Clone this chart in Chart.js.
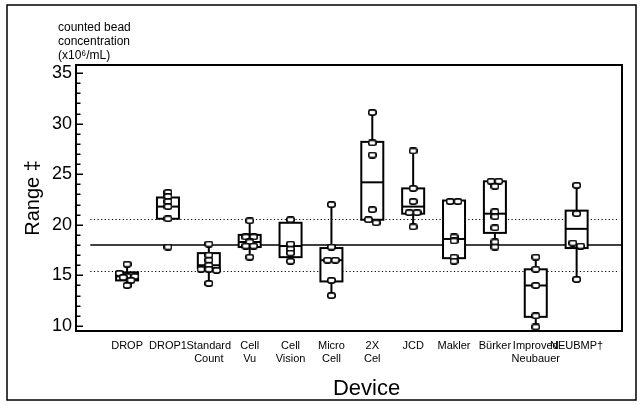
<!DOCTYPE html>
<html>
<head>
<meta charset="utf-8">
<script src="https://cdn.jsdelivr.net/npm/chart.js@4.4.1/dist/chart.umd.min.js"></script>
<style>
  html, body { margin: 0; padding: 0; background: #fff; }
  #wrap { width: 642px; height: 405px; position: relative; }
  canvas { display: block; }
</style>
</head>
<body>
<div id="wrap"><canvas id="c" width="642" height="405"></canvas></div>
<script>
// ---- data ----
const categories = [
  ['DROP'], ['DROP1'], ['Standard', 'Count'], ['Cell', 'Vu'], ['Cell', 'Vision'],
  ['Micro', 'Cell'], ['2X', 'Cel'], ['JCD'], ['Makler'], ['Bürker'],
  ['Improved', 'Neubauer'], ['NEUBMP†']
];
const whiskerLow  = [14.0, 20.6, 14.2, 16.8, 16.4, 13.0, 20.2, 19.8, 16.4, 17.8,  9.9, 14.6];
const q1          = [14.5, 20.6, 15.7, 17.8, 16.8, 14.4, 20.5, 21.1, 16.7, 19.2, 10.9, 17.7];
const median      = [14.9, 21.8, 16.0, 18.3, 17.9, 16.5, 24.2, 21.8, 18.6, 21.1, 14.0, 19.6];
const q3          = [15.3, 22.7, 17.2, 19.0, 20.2, 17.7, 28.2, 23.6, 22.4, 24.3, 15.6, 21.4];
const whiskerHigh = [16.1, 23.2, 18.1, 20.4, 20.5, 22.0, 31.1, 27.3, 22.4, 24.3, 16.8, 23.9];
const observations = [
  [16.1, 15.2, 14.9, 14.8, 14.9, 14.5, 14.0],
  [23.2, 22.8, 22.3, 21.8, 20.6, 17.8],
  [18.1, 17.0, 16.5, 16.0, 15.6, 15.5, 15.6, 14.2],
  [20.4, 18.8, 18.8, 18.3, 17.9, 17.9, 16.8],
  [20.5, 18.1, 17.6, 17.2, 16.4],
  [22.0, 17.8, 16.5, 16.5, 14.5, 13.0],
  [31.1, 28.1, 26.9, 21.5, 20.5, 20.2],
  [27.3, 23.6, 22.3, 21.2, 21.2, 19.8],
  [22.3, 22.3, 18.8, 18.4, 16.8, 16.4],
  [24.3, 24.3, 23.8, 21.3, 20.8, 19.7, 18.3, 17.8],
  [16.8, 15.6, 14.0, 11.0, 9.9],
  [23.9, 21.1, 18.2, 17.9, 14.6]
];
const refMean = 18.0;
const refUpper = 20.6;
const refLower = 15.4;
const yTicks = [10, 15, 20, 25, 30, 35];
const yMin = 9.5, yMax = 35.8;
const xMin = -0.25, xMax = 13.11;

// ---- jitter overlapping points (computed) ----
const STEP = 0.19, THR = 0.35;
const scatterPts = [];
observations.forEach((vals, i) => {
  const sorted = vals.slice().sort((a, b) => b - a);
  let k = 0;
  while (k < sorted.length) {
    let j = k + 1;
    while (j < sorted.length && sorted[k] - sorted[j] < THR) j++;
    const n = j - k;
    for (let m = 0; m < n; m++) {
      scatterPts.push({ x: i + 1 + (m - (n - 1) / 2) * STEP, y: sorted[k + m] });
    }
    k = j;
  }
});

// ---- marker image ----
const marker = document.createElement('canvas');
marker.width = 9; marker.height = 7;
(function () {
  const m = marker.getContext('2d');
  const w = 7.4, h = 5.2, x = 0.8, y = 0.9, r = 2;
  m.beginPath();
  m.moveTo(x + r, y); m.lineTo(x + w - r, y); m.quadraticCurveTo(x + w, y, x + w, y + r);
  m.lineTo(x + w, y + h - r); m.quadraticCurveTo(x + w, y + h, x + w - r, y + h);
  m.lineTo(x + r, y + h); m.quadraticCurveTo(x, y + h, x, y + h - r);
  m.lineTo(x, y + r); m.quadraticCurveTo(x, y, x + r, y); m.closePath();
  m.fillStyle = '#fff'; m.fill();
  m.lineWidth = 1.7; m.strokeStyle = '#000'; m.stroke();
})();

const FONT = '"Liberation Sans", Arial, Helvetica, sans-serif';

const boxPlugin = {
  id: 'boxes',
  beforeDraw(chart) {
    const { ctx } = chart;
    ctx.save();
    ctx.fillStyle = '#fff';
    ctx.fillRect(0, 0, chart.width, chart.height);
    ctx.restore();
  },
  beforeDatasetsDraw(chart) {
    const { ctx, chartArea: a, scales: { x, y } } = chart;
    ctx.save();
    ctx.beginPath(); ctx.rect(a.left, a.top, a.right - a.left, a.bottom - a.top); ctx.clip();
    const x0 = x.getPixelForValue(0.1), x1 = x.getPixelForValue(13.05);
    ctx.strokeStyle = '#000';
    ctx.lineWidth = 1; ctx.setLineDash([1.2, 2.4]);
    [refUpper, refLower].forEach(v => {
      const py = Math.round(y.getPixelForValue(v)) + 0.5;
      ctx.beginPath(); ctx.moveTo(x0, py); ctx.lineTo(x1, py); ctx.stroke();
    });
    ctx.setLineDash([]); ctx.lineWidth = 1.5;
    const pm = y.getPixelForValue(refMean);
    ctx.beginPath(); ctx.moveTo(x0, pm); ctx.lineTo(x1 + 2, pm); ctx.stroke();

    const half = 11;
    ctx.lineWidth = 2;
    categories.forEach((c, i) => {
      const cx = x.getPixelForValue(i + 1);
      const pLo = y.getPixelForValue(whiskerLow[i]);
      const pQ1 = y.getPixelForValue(q1[i]);
      const pMd = y.getPixelForValue(median[i]);
      const pQ3 = y.getPixelForValue(q3[i]);
      const pHi = y.getPixelForValue(whiskerHigh[i]);
      ctx.beginPath();
      ctx.moveTo(cx, pLo); ctx.lineTo(cx, pQ1);
      ctx.moveTo(cx, pQ3); ctx.lineTo(cx, pHi);
      ctx.stroke();
      ctx.fillStyle = '#fff';
      ctx.fillRect(cx - half, pQ3, 2 * half, pQ1 - pQ3);
      ctx.strokeRect(cx - half, pQ3, 2 * half, pQ1 - pQ3);
      ctx.beginPath(); ctx.moveTo(cx - half, pMd); ctx.lineTo(cx + half, pMd); ctx.stroke();
    });
    ctx.restore();
  },
  afterDraw(chart) {
    const { ctx, chartArea: a, scales: { y } } = chart;
    ctx.save();
    ctx.strokeStyle = '#000';
    ctx.lineWidth = 2;
    ctx.strokeRect(a.left, a.top, a.right - a.left, a.bottom - a.top);
    ctx.lineWidth = 1.5;
    for (let v = 10; v <= 35; v++) {
      const py = Math.round(y.getPixelForValue(v)) + 0.25;
      const len = v % 5 === 0 ? 7 : 4.5;
      ctx.beginPath(); ctx.moveTo(a.left, py); ctx.lineTo(a.left + len, py); ctx.stroke();
    }
    ctx.lineWidth = 1.5;
    ctx.strokeRect(7, 5, 629, 395);
    ctx.fillStyle = '#000';
    ctx.textAlign = 'left'; ctx.textBaseline = 'alphabetic';
    ctx.font = '12px ' + FONT;
    ctx.fillText('counted bead', 58, 31);
    ctx.fillText('concentration', 58, 45);
    ctx.fillText('(x10\u2076/mL)', 58, 58.5);
    ctx.font = '22px ' + FONT;
    ctx.textAlign = 'center';
    ctx.fillText('Device', 366.5, 395);
    ctx.restore();
  }
};

new Chart(document.getElementById('c'), {
  data: {
    datasets: [{
      type: 'scatter',
      data: scatterPts,
      pointStyle: marker,
      pointRadius: 4,
      pointHoverRadius: 4,
      showLine: false
    }]
  },
  options: {
    responsive: false,
    animation: false,
    devicePixelRatio: 1,
    layout: { padding: { left: 0, top: 65, right: 20, bottom: 0 } },
    plugins: { legend: { display: false }, tooltip: { enabled: false } },
    scales: {
      x: {
        type: 'linear', min: xMin, max: xMax,
        grid: { display: false, drawTicks: false },
        border: { display: false },
        afterBuildTicks: s => { s.ticks = categories.map((c, i) => ({ value: i + 1 })); },
        afterFit: s => { s.height = 74; },
        ticks: {
          autoSkip: false, maxRotation: 0, minRotation: 0, padding: 9,
          color: '#000',
          font: { family: FONT, size: 11, lineHeight: 1.15 },
          callback: (v, idx) => categories[idx]
        }
      },
      y: {
        type: 'linear', min: yMin, max: yMax,
        grid: { display: false, drawTicks: false },
        border: { display: false },
        afterBuildTicks: s => { s.ticks = yTicks.map(v => ({ value: v })); },
        afterFit: s => { s.width = 76; },
        ticks: { color: '#000', padding: 4, font: { family: FONT, size: 18 } },
        title: { display: true, text: 'Range ‡', color: '#000', padding: { top: 21, bottom: 0 }, font: { family: FONT, size: 20 } }
      }
    }
  },
  plugins: [boxPlugin]
});
</script>
</body>
</html>
